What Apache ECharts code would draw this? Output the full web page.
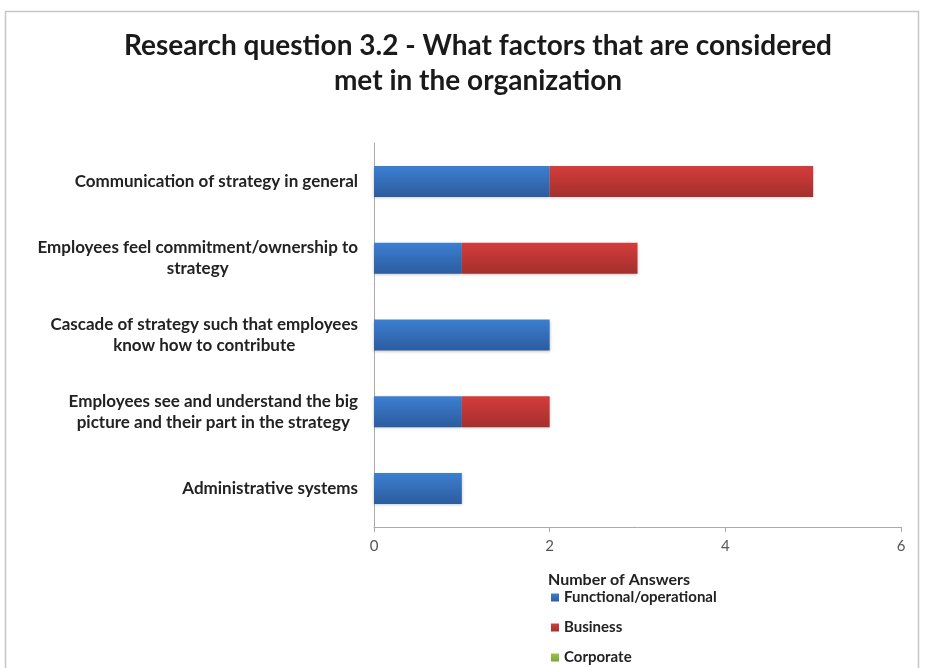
<!DOCTYPE html>
<html>
<head>
<meta charset="utf-8">
<script src="https://cdn.jsdelivr.net/npm/echarts@6/dist/echarts.min.js"></script>
<style>
  html, body { margin: 0; padding: 0; background: #ffffff; }
  #chart { width: 925px; height: 668px; }
</style>
</head>
<body>
<div id="chart"></div>
<script>
// categories, top to bottom as in the picture
const categories = [
  "Communication of strategy in general",
  "Employees feel commitment/ownership to\nstrategy",
  "Cascade of strategy such that employees\nknow how to contribute",
  "Employees see and understand the big\npicture and their part in the strategy",
  "Administrative systems",
];
const functional = [2, 1, 2, 1, 1];
const business = [3, 2, 0, 1, 0];
const corporate = [0, 0, 0, 0, 0];
const xTicks = [0, 2, 4, 6];

const fontFamily = "Lato, 'Open Sans', sans-serif";

const chart = echarts.init(document.getElementById("chart"));

const grad = (top, bottom) =>
  new echarts.graphic.LinearGradient(0, 0, 0, 1, [
    { offset: 0, color: top },
    { offset: 1, color: bottom },
  ]);

const barSeries = (name, data, top, bottom) => ({
  name,
  type: "bar",
  stack: "total",
  data,
  barWidth: 31,
  itemStyle: {
    color: grad(top, bottom),
    shadowColor: "rgba(0,0,0,0.25)",
    shadowBlur: 3,
    shadowOffsetY: 1,
  },
});

// categories read bottom-up on a category y axis, so reverse
const rev = (a) => a.slice().reverse();

const option = {
  animation: false,
  backgroundColor: "#ffffff",
  textStyle: { fontFamily },
  graphic: [
    {
      type: "rect",
      shape: { x: 5.5, y: 11.5, width: 913, height: 680 },
      style: { fill: "none", stroke: "#c6c6c6", lineWidth: 1.5 },
      silent: true,
    },
  ],
  title: [
    {
      text: "Research question 3.2 - What factors that are considered\nmet in the organization",
      left: 473,
      top: 23,
      textAlign: "center",
      textStyle: {
        fontFamily,
        fontSize: 28,
        fontWeight: "bold",
        color: "#1a1a1a",
        lineHeight: 35,
      },
    },
    {
      text: "Number of Answers",
      left: 543,
      top: 567,
      textStyle: {
        fontFamily,
        fontSize: 16,
        fontWeight: "bold",
        color: "#222",
      },
    },
  ],
  legend: {
    orient: "vertical",
    left: 551,
    top: 589,
    height: 90,
    padding: 0,
    itemWidth: 8,
    itemHeight: 8,
    itemGap: 13,
    icon: "rect",
    textStyle: { fontFamily, fontSize: 15, fontWeight: "bold", color: "#222", lineHeight: 17 },
    data: ["Functional/operational", "Business", "Corporate"],
  },
  grid: {
    left: 374,
    right: 24,
    top: 143,
    bottom: 141,
  },
  xAxis: {
    type: "value",
    min: 0,
    max: 6,
    interval: 2,
    splitLine: { show: false },
    axisLine: { show: true, lineStyle: { color: "#aaaaaa" } },
    axisTick: { show: true, length: 5, lineStyle: { color: "#aaaaaa" } },
    axisLabel: {
      color: "#555",
      fontSize: 15,
      margin: 12,
      formatter: (v) => (xTicks.includes(v) ? String(v) : ""),
    },
  },
  yAxis: {
    type: "category",
    data: rev(categories),
    axisLine: { show: true, lineStyle: { color: "#aaaaaa" } },
    axisTick: { show: false },
    axisLabel: {
      margin: 16,
      formatter: (v) =>
        v
          .split("\n")
          .map((l) => "{c|" + l + "}")
          .join("\n"),
      rich: {
        c: {
          fontFamily,
          fontSize: 17,
          fontWeight: "bold",
          color: "#222",
          lineHeight: 21,
          align: "center",
        },
      },
    },
  },
  series: [
    barSeries("Functional/operational", rev(functional), "#3c7fd2", "#2c5c9e"),
    barSeries("Business", rev(business), "#d53c3b", "#a3302e"),
    barSeries("Corporate", rev(corporate), "#9bc44a", "#7fa336"),
  ],
  color: ["#3a72c0", "#c0392f", "#8db53a"],
};

chart.setOption(option);
</script>
</body>
</html>
